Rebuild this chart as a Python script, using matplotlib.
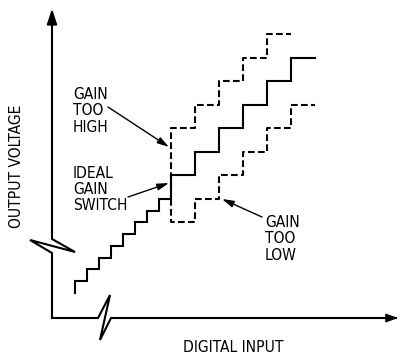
import numpy as np
import matplotlib
matplotlib.use('Agg')
import matplotlib.pyplot as plt

# staircase data: digital input code edges and output levels (in LSB)
fine_edges = [0, 1, 2, 3, 4, 5, 6, 7, 8]
fine_levels = [0, 1, 2, 3, 4, 5, 6, 7]
ideal_edges = [8, 10, 12, 14, 16, 18, 20]
ideal_levels = [9, 11, 13, 15, 17, 19]
high_edges = [8, 10, 12, 14, 16, 18]
high_levels = [13, 15, 17, 19, 21]
low_edges = [8, 10, 12, 14, 16, 18, 20]
low_levels = [5, 7, 9, 11, 13, 15]
start_level = -1
switch_level = 7

font = ['DejaVu Sans']
W, H = 402, 356


def stair(edges, levels, start):
    # builds x, y of a staircase starting with a vertical rise at edges[0]
    xs = [edges[0]]
    ys = [start]
    for i, lv in enumerate(levels):
        xs += [edges[i], edges[i + 1]]
        ys += [lv, lv]
    return np.array(xs), np.array(ys)


fig = plt.figure(figsize=(W / 100, H / 100), dpi=100)

# data axes: one code = 12 px, one LSB = 11.75 px, code 0 / level 0 at (75, 281) px
ax = fig.add_axes([0, 0, 1, 1])
ax.set_xlim(-75 / 12, (W - 75) / 12)
ax.set_ylim((281 - H) / 11.75, 281 / 11.75)
ax.axis('off')

# overlay in pixel units for the drawn axes and the labels
ov = fig.add_axes([0, 0, 1, 1])
ov.set_xlim(0, W)
ov.set_ylim(H, 0)
ov.axis('off')
ov.patch.set_alpha(0)

lw = 1.5
x, y = stair(fine_edges + ideal_edges[1:], fine_levels + ideal_levels, start_level)
ax.plot(x, y, color='black', lw=lw, solid_joinstyle='miter')
x, y = stair(high_edges, high_levels, switch_level)
ax.plot(x, y, color='black', lw=lw, dashes=(3.2, 1.6))
x, y = stair(low_edges, low_levels, switch_level)
ax.plot(x, y, color='black', lw=lw, dashes=(3.2, 1.6))

# vertical axis with break, horizontal axis with break
ov.plot([52, 52, 75, 30, 52, 52, 98, 110, 100, 111, 396],
        [12, 239, 252, 240, 253, 318, 318, 295, 340, 318, 318],
        color='black', lw=1.5, solid_joinstyle='miter')
ov.annotate('', xy=(52, 6), xytext=(52, 30),
            arrowprops=dict(arrowstyle='-|>,head_length=0.9,head_width=0.3',
                            color='black', lw=1.5, mutation_scale=10))
ov.annotate('', xy=(401, 318), xytext=(380, 318),
            arrowprops=dict(arrowstyle='-|>,head_length=0.7,head_width=0.25',
                            color='black', lw=1.2, mutation_scale=10))

fs = 11.2
labels = [
    (73, 99, 'GAIN'), (73, 115, 'TOO'), (73, 132, 'HIGH'),
    (73, 178, 'IDEAL'), (73, 194, 'GAIN'), (73, 210, 'SWITCH'),
    (265, 227, 'GAIN'), (265, 243, 'TOO'), (265, 260, 'LOW'),
    (183, 352, 'DIGITAL INPUT'),
]
for tx, ty, s in labels:
    ov.text(tx, ty, s, ha='left', va='baseline', fontsize=fs, family=font,
            fontstretch='condensed')
ov.text(17, 166, 'OUTPUT VOLTAGE', rotation=90, ha='center', va='center',
        fontsize=fs, family=font, fontstretch='condensed')

arrow = dict(arrowstyle='-|>,head_length=0.7,head_width=0.2', color='black',
             lw=1.0, mutation_scale=10, shrinkA=0, shrinkB=0)
ov.annotate('', xy=(169, 147), xytext=(108, 107), arrowprops=arrow)
ov.annotate('', xy=(169, 183), xytext=(128, 197), arrowprops=arrow)
ov.annotate('', xy=(222, 199), xytext=(262, 217), arrowprops=arrow)

fig.savefig('out.png', dpi=100)
